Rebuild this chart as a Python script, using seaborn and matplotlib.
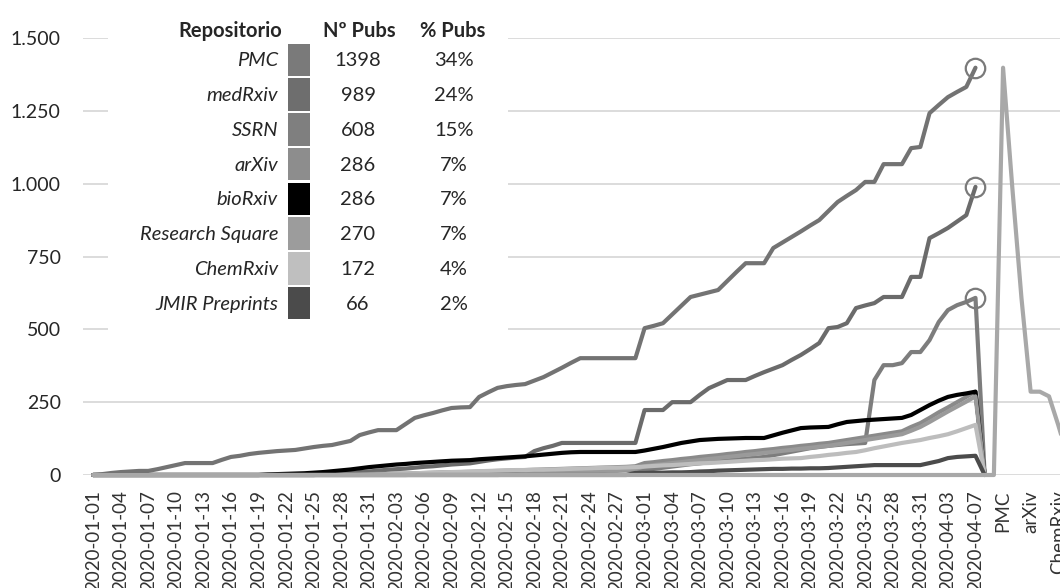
import pandas as pd
import matplotlib
matplotlib.use("Agg")
import matplotlib.pyplot as plt
from matplotlib.patches import Rectangle
import seaborn as sns

W, H = 1060, 588

# categories: daily dates (04-05 missing in the source sheet), two blank rows, then the summary rows
dates = [d.strftime("%Y-%m-%d") for d in pd.date_range("2020-01-01", "2020-04-07")
         if d.strftime("%m-%d") != "04-05"]
repos = ["PMC", "medRxiv", "SSRN", "arXiv", "bioRxiv", "Research Square", "ChemRxiv", "JMIR Preprints"]
n_pubs = [1398, 989, 608, 286, 286, 270, 172, 66]
pct_pubs = ["34%", "24%", "15%", "7%", "7%", "7%", "4%", "2%"]
categories = dates + ["", ""] + repos

# cumulative publications per repository
pmc = [0, 3, 7, 10, 12, 14, 14, 20, 27, 34, 41, 41, 41, 41, 52, 62, 66, 72, 76, 79,
       82, 84, 86, 91, 96, 100, 103, 110, 117, 137, 146, 154, 154, 154, 175, 196, 205, 213, 222, 230,
       232, 233, 268, 284, 299, 305, 309, 312, 324, 336, 352, 368, 385, 401, 401, 401, 401, 401, 401, 401,
       504, 512, 521, 551, 581, 611, 619, 627, 635, 666, 697, 727, 727, 727, 779, 798, 817, 836, 856, 875,
       906, 937, 958, 978, 1006, 1006, 1067, 1067, 1067, 1122, 1126, 1242, 1270, 1297, 1315, 1332, 1398]
medrxiv = [0, 0, 0, 0, 0, 0, 0, 0, 0, 0, 0, 0, 0, 0, 0, 0, 0, 0, 0, 0,
           0, 0, 0, 0, 0, 2, 4, 6, 8, 10, 12, 15, 18, 20, 22, 25, 28, 30, 33, 36,
           38, 40, 45, 50, 54, 57, 60, 62, 82, 92, 100, 110, 110, 110, 110, 110, 110, 110, 110, 110,
           223, 223, 223, 250, 250, 250, 275, 298, 312, 326, 326, 326, 340, 353, 365, 377, 395, 412, 432, 453,
           504, 508, 521, 573, 582, 590, 611, 611, 611, 680, 680, 813, 830, 848, 870, 892, 989]
ssrn = [0, 0, 0, 0, 0, 0, 0, 0, 0, 0, 0, 0, 0, 0, 0, 0, 0, 0, 0, 0,
        0, 0, 0, 0, 0, 0, 0, 0, 0, 0, 0, 0, 0, 0, 0, 1, 1, 2, 2, 3,
        3, 4, 4, 5, 6, 6, 7, 8, 9, 9, 10, 11, 12, 12, 13, 14, 15, 15, 16, 17,
        17, 21, 25, 29, 33, 37, 40, 44, 47, 50, 53, 56, 59, 62, 68, 74, 80, 86, 92, 96,
        100, 103, 106, 108, 110, 326, 377, 377, 384, 422, 422, 463, 525, 566, 583, 594, 608]
arxiv = [0, 0, 0, 0, 0, 0, 0, 0, 0, 0, 0, 0, 0, 0, 0, 0, 0, 0, 0, 0,
         0, 0, 0, 0, 0, 1, 1, 2, 2, 3, 3, 4, 4, 5, 5, 6, 7, 8, 9, 9,
         10, 11, 12, 13, 14, 15, 16, 17, 18, 19, 20, 21, 22, 23, 24, 25, 26, 27, 28, 30,
         41, 44, 48, 51, 55, 58, 62, 65, 68, 72, 75, 79, 82, 86, 89, 93, 96, 100, 103, 107,
         110, 115, 120, 125, 130, 135, 140, 145, 150, 165, 178, 196, 215, 232, 250, 268, 286]
biorxiv = [0, 0, 0, 0, 0, 0, 0, 0, 0, 0, 0, 0, 0, 0, 0, 0, 0, 0, 0, 2,
           3, 4, 5, 6, 8, 10, 13, 16, 19, 23, 27, 30, 33, 36, 38, 41, 43, 45, 47, 49,
           50, 51, 54, 56, 58, 60, 62, 64, 67, 70, 73, 76, 78, 79, 79, 79, 79, 79, 79, 79,
           84, 90, 96, 103, 110, 115, 120, 122, 124, 125, 126, 127, 127, 127, 136, 145, 153, 161, 163, 164,
           165, 174, 182, 185, 188, 190, 192, 194, 196, 206, 223, 240, 255, 268, 275, 280, 286]
research_square = [0, 0, 0, 0, 0, 0, 0, 0, 0, 0, 0, 0, 0, 0, 0, 0, 0, 0, 0, 0,
                   0, 0, 0, 0, 0, 0, 0, 0, 0, 0, 0, 0, 0, 0, 0, 0, 0, 0, 0, 0,
                   0, 0, 0, 0, 0, 1, 2, 3, 4, 5, 6, 8, 9, 11, 12, 14, 15, 17, 18, 20,
                   30, 34, 37, 41, 44, 48, 51, 55, 58, 62, 65, 69, 72, 76, 79, 83, 86, 90, 93, 97,
                   100, 105, 110, 115, 120, 125, 130, 135, 140, 152, 165, 182, 200, 218, 235, 252, 270]
chemrxiv = [0, 0, 0, 0, 0, 0, 0, 0, 0, 0, 0, 0, 0, 0, 0, 0, 0, 0, 0, 0,
            0, 0, 0, 0, 0, 0, 0, 0, 0, 0, 1, 2, 3, 4, 5, 6, 7, 8, 9, 10,
            11, 12, 13, 14, 15, 16, 17, 17, 18, 18, 19, 20, 21, 22, 23, 24, 25, 25, 26, 27,
            29, 31, 33, 34, 36, 38, 40, 41, 43, 45, 47, 49, 51, 52, 54, 56, 57, 58, 62, 65,
            69, 72, 76, 79, 85, 92, 98, 104, 110, 115, 120, 127, 133, 140, 150, 161, 172]
jmir = [0, 0, 0, 0, 0, 0, 0, 0, 0, 0, 0, 0, 0, 0, 0, 0, 0, 0, 0, 0,
        0, 0, 0, 0, 0, 0, 0, 0, 0, 0, 0, 0, 0, 0, 0, 0, 0, 0, 0, 0,
        0, 0, 0, 0, 0, 0, 0, 0, 0, 0, 0, 0, 0, 0, 0, 0, 0, 0, 0, 7,
        7, 8, 8, 9, 9, 10, 12, 13, 15, 16, 17, 18, 19, 20, 21, 21, 22, 22, 23, 23,
        24, 26, 28, 30, 32, 34, 34, 34, 34, 34, 34, 41, 48, 58, 62, 64, 66]

series = {"PMC": pmc, "medRxiv": medrxiv, "SSRN": ssrn, "arXiv": arxiv, "bioRxiv": biorxiv,
          "Research Square": research_square, "ChemRxiv": chemrxiv, "JMIR Preprints": jmir}
# PMC and medRxiv stop at the last date, the others fall to zero on the next (blank) row
zero_tail = ["SSRN", "arXiv", "bioRxiv", "Research Square", "ChemRxiv", "JMIR Preprints"]
colors = {"PMC": "#737373", "medRxiv": "#6b6b6b", "SSRN": "#7d7d7d", "arXiv": "#8a8a8a",
          "bioRxiv": "#000000", "Research Square": "#9a9a9a", "ChemRxiv": "#bdbdbd",
          "JMIR Preprints": "#4b4b4b", "Nº Pubs": "#a8a8a8"}
swatch_colors = ["#7a7a7a", "#6e6e6e", "#7f7f7f", "#8d8d8d", "#000000", "#9c9c9c", "#bfbfbf", "#4b4b4b"]

rows = []
for name, vals in series.items():
    full = vals + [0] if name in zero_tail else vals
    for i, v in enumerate(full):
        rows.append({"idx": i, "value": v, "serie": name})
npubs_full = [0] * (len(categories) - len(n_pubs)) + n_pubs
for i, v in enumerate(npubs_full):
    rows.append({"idx": i, "value": v, "serie": "Nº Pubs"})
df = pd.DataFrame(rows)

sns.set_theme(style="white")
plt.rcParams["font.family"] = ["Lato", "DejaVu Sans"]

fig = plt.figure(figsize=(W / 100, H / 100), dpi=100)
ax = fig.add_axes([83 / W, (H - 475) / H, (1072 - 83) / W, 437 / H])

sns.lineplot(data=df, x="idx", y="value", hue="serie", palette=colors,
             hue_order=list(colors.keys()), linewidth=3, legend=False, sort=False, ax=ax)
for line in ax.lines:
    line.set_clip_on(False)
    line.set_solid_joinstyle("round")

# hand drawn circles on the three biggest repositories
last = len(dates) - 1
for name in ["PMC", "medRxiv", "SSRN"]:
    ax.plot(last, series[name][-1], marker="o", ms=14, mfc="none", mec="#7a7a7a", mew=1.6,
            clip_on=False, zorder=5)

ax.set_xlim(-1.1, len(categories) - 0.5)
ax.set_ylim(0, 1500)
yt = [0, 250, 500, 750, 1000, 1250, 1500]
ax.set_yticks(yt)
ax.set_yticklabels([f"{v:,}".replace(",", ".") for v in yt], fontsize=14, color="#262626")
xt = list(range(0, len(dates), 3)) + [len(dates) + 2, len(dates) + 5, len(dates) + 8]
ax.set_xticks(xt)
ax.set_xticklabels([categories[i] for i in xt], rotation=90, fontsize=13.5, color="#333333")
ax.tick_params(axis="y", length=0, pad=16)
ax.tick_params(axis="x", length=0, pad=11)
ax.yaxis.grid(True, color="#d6d6d6", linewidth=1.2)
ax.set_axisbelow(True)
for s in ax.spines.values():
    s.set_visible(False)
ax.set_xlabel("")
ax.set_ylabel("")


def px(x, y):
    return x / W, 1 - y / H


# summary table pasted over the chart
x0, y0 = px(108, 12)
fig.add_artist(Rectangle((x0, 1 - 336 / H), 400 / W, 324 / H, transform=fig.transFigure,
                         facecolor="white", edgecolor="none", zorder=2))
fs = 14.5
fig.text(*px(282, 31), "Repositorio", ha="right", va="center", fontsize=fs, fontweight="bold", zorder=3)
fig.text(*px(359, 31), "Nº Pubs", ha="center", va="center", fontsize=fs, fontweight="bold", zorder=3)
fig.text(*px(453, 31), "% Pubs", ha="center", va="center", fontsize=fs, fontweight="bold", zorder=3)
step = 34.75
for i, name in enumerate(repos):
    yc = 61 + step * i
    fig.text(*px(278, yc), name, ha="right", va="center", fontsize=fs, style="italic", zorder=3)
    fig.text(*px(358, yc), str(n_pubs[i]), ha="center", va="center", fontsize=fs, zorder=3)
    fig.text(*px(454, yc), pct_pubs[i], ha="center", va="center", fontsize=fs, zorder=3)
    sx, sy = px(288, 43 + step * i + 33)
    fig.add_artist(Rectangle((sx, sy), 22 / W, 32.5 / H, transform=fig.transFigure,
                             facecolor=swatch_colors[i], edgecolor="none", zorder=3))

fig.savefig("out.png", dpi=100)
